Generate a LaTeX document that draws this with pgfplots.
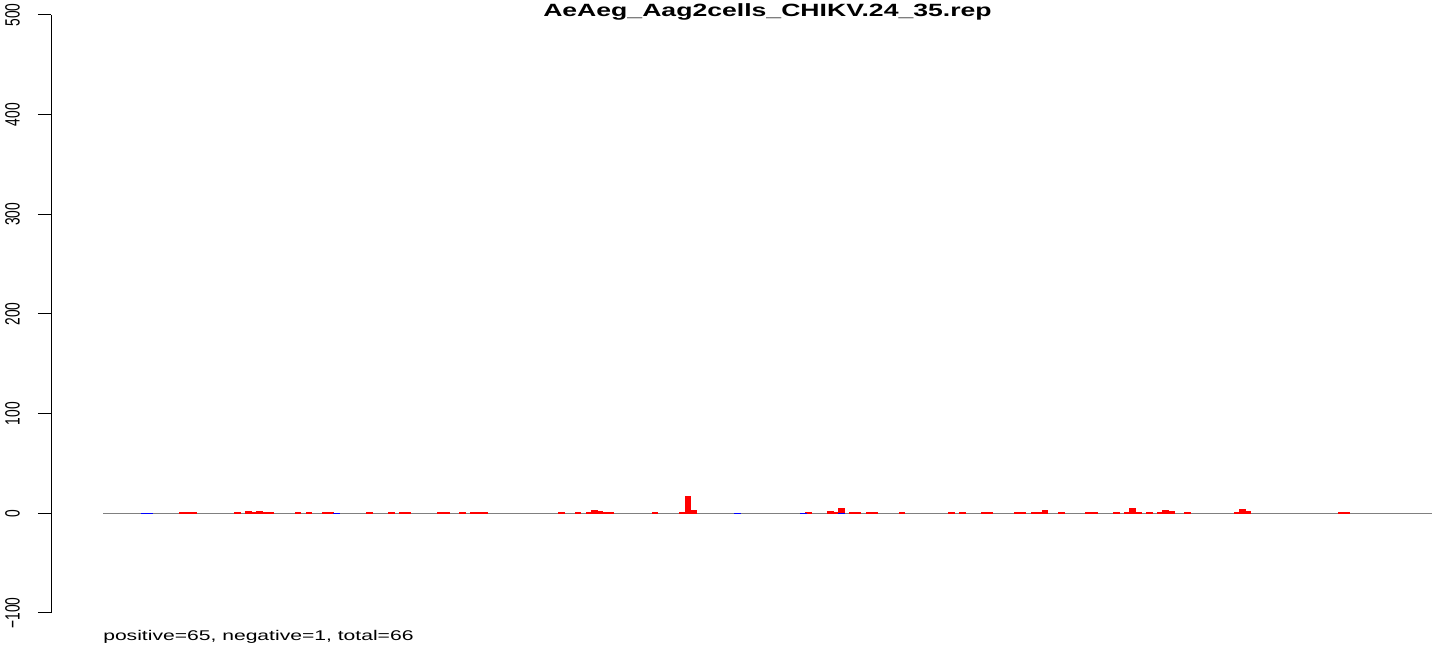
\documentclass[border=0pt]{standalone}
\usepackage{fontspec}
\setmainfont{Liberation Sans}
\newfontfamily\widefont[FakeStretch=1.5]{Liberation Sans}
\newfontfamily\tickfont[FakeStretch=0.6667]{Liberation Sans}
\usepackage{pgfplots}
\pgfplotsset{compat=1.18}
\pgfplotstableread{
x v
14.5 0.5
15.5 0.5
16.5 0.5
24.5 0.5
26.5 1.5
27.5 0.5
28.5 1.5
29.5 0.5
30.5 0.5
35.5 0.5
37.5 0.5
40.5 0.5
41.5 0.5
48.5 0.5
52.5 0.5
54.5 0.5
55.5 0.5
61.5 0.5
62.5 0.5
65.5 0.5
67.5 0.5
68.5 0.5
69.5 0.5
83.5 0.5
86.5 0.5
88.5 0.5
89.5 2.5
90.5 1.5
91.5 0.5
92.5 0.5
100.5 0.5
105.5 0.5
106.5 17
107.5 2.5
128.5 0.5
132.5 1.5
133.5 0.5
134.5 5
136.5 0.5
137.5 0.5
139.5 0.5
140.5 0.5
145.5 0.5
154.5 0.5
156.5 0.5
160.5 0.5
161.5 0.5
166.5 0.5
167.5 0.5
169.5 0.5
170.5 0.5
171.5 2.5
174.5 0.5
179.5 0.5
180.5 0.5
184.5 0.5
186.5 0.5
187.5 4.5
188.5 0.5
190.5 0.5
192.5 0.5
193.5 2.5
194.5 1.5
197.5 0.5
206.5 0.5
207.5 3.5
208.5 1.5
225.5 0.5
226.5 0.5
}\pos
\pgfplotstableread{
x v
7.5 -0.5
8.5 -0.5
42.5 -0.5
115.5 -0.5
127.5 -0.5
134.5 -0.5
}\neg
\begin{document}
\begin{tikzpicture}
\useasboundingbox (-38.25pt,-31.5pt) rectangle (1044.75pt,459.75pt);
\begin{axis}[
 at={(0pt,0pt)}, anchor=south west,
 scale only axis, width=1035.75pt, height=448.5pt,
 xmin=-9.469, xmax=242, ymin=-100, ymax=500,
 axis x line=none, axis y line*=left,
 ytick={-100,0,...,500}, yticklabels={−100,0,100,200,300,400,500},
 xtick=\empty,
 tick align=outside, major tick length=9.75pt,
 y axis line style={line width=0.75pt},
 every tick/.style={black, line width=0.75pt},
 yticklabel style={font=\tickfont\fontsize{15.5}{16}\selectfont, xshift=-13.5pt, rotate=90, anchor=south, inner sep=0pt},
 clip=false,
]
\addplot[gray, line width=0.75pt, forget plot] coordinates {(0,0) (242,0)};
\addplot[ybar, bar width=1, bar shift=0pt, fill=red, draw=red, line width=0.9pt] table[x=x,y=v] {\pos};
\addplot[ybar, bar width=1, bar shift=0pt, fill=blue, draw=blue, line width=0.9pt] table[x=x,y=v] {\neg};
\node[anchor=base, font=\widefont\bfseries\fontsize{13.3}{16}\selectfont] at (axis cs:121,498.5) {AeAeg\_Aag2cells\_CHIKV.24\_35.rep};
\node[anchor=base west, inner sep=0pt, font=\widefont\fontsize{10.55}{12}\selectfont] at (axis cs:0,-127.1) {positive=65, negative=1, total=66};
\end{axis}
\end{tikzpicture}
\end{document}
